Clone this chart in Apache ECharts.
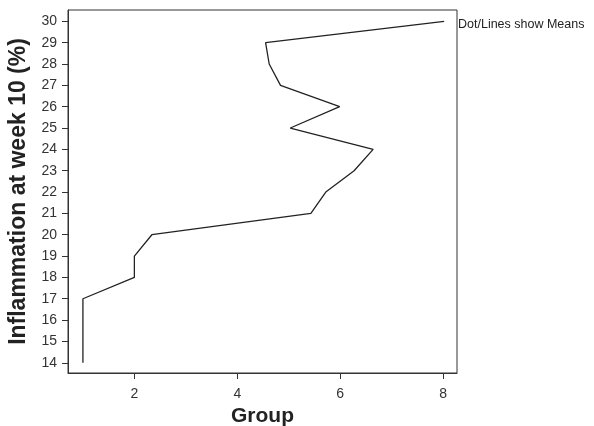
<!DOCTYPE html>
<html><head><meta charset="utf-8">
<script src="https://cdn.jsdelivr.net/npm/echarts@6/dist/echarts.min.js"></script>
<style>html,body{margin:0;padding:0;background:#fff}#c{width:594px;height:426px}</style>
</head><body><div id="c"></div>
<script>
const inflammation = [14,15,16,17,18,19,20,21,22,23,24,25,26,27,28,29,30];
const groupMeans = [1,1,1,1,2,2,2.34,5.43,5.72,6.27,6.64,5.03,5.99,4.84,4.62,4.55,8.02];
const xTicks = [2,4,6,8];
const yTicks = [14,15,16,17,18,19,20,21,22,23,24,25,26,27,28,29,30];
const note = 'Dot/Lines show Means';

const chart = echarts.init(document.getElementById('c'), null, {renderer:'canvas'});
const font = 'Liberation Sans, Arial, sans-serif';
chart.setOption({
  animation:false,
  grid:{left:68,right:137,top:10,bottom:53,show:true,borderColor:'#333',borderWidth:1,containLabel:false,outerBoundsMode:'none'},
  xAxis:{type:'value',min:0.71,max:8.27,
    name:'Group',nameLocation:'middle',nameGap:30,
    nameTextStyle:{fontFamily:font,fontWeight:'bold',fontSize:21,color:'#222'},
    axisLine:{show:true,lineStyle:{color:'#333',width:1}},
    axisTick:{show:true,length:6,customValues:xTicks,lineStyle:{color:'#333'}},
    axisLabel:{customValues:xTicks,fontFamily:font,fontSize:14,color:'#333',margin:14},
    splitLine:{show:false}},
  yAxis:{type:'value',min:13.52,max:30.53,
    name:'Inflammation at week 10 (%)',nameLocation:'middle',nameGap:36,
    nameTextStyle:{fontFamily:font,fontWeight:'bold',fontSize:23,color:'#222'},
    axisLine:{show:true,lineStyle:{color:'#333',width:1}},
    axisTick:{show:true,length:6,customValues:yTicks,lineStyle:{color:'#333'}},
    axisLabel:{customValues:yTicks,fontFamily:font,fontSize:14,color:'#333',margin:11},
    splitLine:{show:false}},
  graphic:[{type:'text',left:458,top:18,style:{text:note,font:'12.5px '+font,fill:'#222'}}],
  series:[{type:'line',data:inflammation.map((v,i)=>[groupMeans[i],v]),
    showSymbol:false,symbol:'none',smooth:false,
    lineStyle:{color:'#222',width:1.3}}]
});
</script></body></html>
